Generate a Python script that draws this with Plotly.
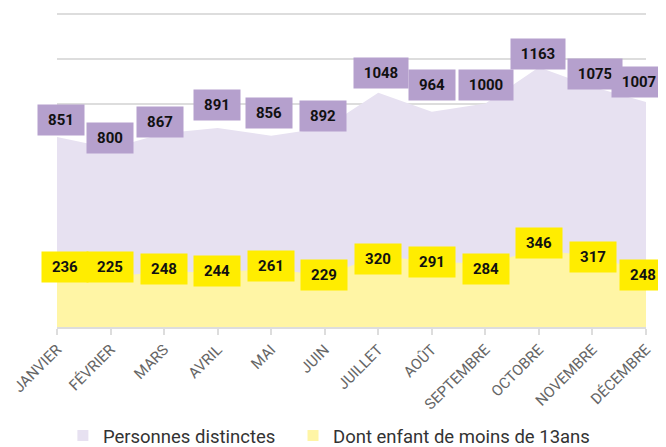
import plotly.graph_objects as go

months = ["JANVIER", "FÉVRIER", "MARS", "AVRIL", "MAI", "JUIN", "JUILLET",
          "AOÛT", "SEPTEMBRE", "OCTOBRE", "NOVEMBRE", "DÉCEMBRE"]
personnes = [851, 800, 867, 891, 856, 892, 1048, 964, 1000, 1163, 1075, 1007]
enfants = [236, 225, 248, 244, 261, 229, 320, 291, 284, 346, 317, 248]

# label placement offsets (pixels, dx right / dy up) to mimic collision avoidance
p_dx = [3.5, -1, -4.5, -0.5, -2.5, -1.5, 3, 0, 0.5, -0.5, 2.5, -7.5]
p_dy = [16.5, 10, 11, 22.5, 22.5, 12, 19.5, 27, 19, 13, 12.5, 20]
e_dx = [7.5, -0.5, -0.5, -0.5, 0, -1, 0, 0, 0.5, 0.5, 1, -3]
e_dy = [7.5, 9.5, 2.6, 1, 3, 1, -3, 0, -5, 6.7, -1, -3.4]

PURPLE_FILL = "#e7e1f1"
PURPLE_BOX = "#b5a0cd"
YELLOW_FILL = "#fff5a5"
YELLOW_BOX = "#ffed00"

fig = go.Figure()
fig.add_trace(go.Scatter(x=months, y=personnes, name="Personnes distinctes",
                         mode="lines", line=dict(width=0, color=PURPLE_FILL),
                         fill="tozeroy", fillcolor=PURPLE_FILL, showlegend=False))
fig.add_trace(go.Scatter(x=months, y=enfants, name="Dont enfant de moins de 13ans",
                         mode="lines", line=dict(width=0, color=YELLOW_FILL),
                         fill="tozeroy", fillcolor=YELLOW_FILL, showlegend=False))
# legend entries with small square swatches
fig.add_trace(go.Scatter(x=[None], y=[None], mode="markers", name="Personnes distinctes",
                         marker=dict(symbol="square", size=11, color=PURPLE_FILL),
                         legend="legend"))
fig.add_trace(go.Scatter(x=[None], y=[None], mode="markers",
                         name="Dont enfant de moins de 13ans",
                         marker=dict(symbol="square", size=11, color=YELLOW_FILL),
                         legend="legend2"))

annotations = []
for series, dxs, dys, box in [(personnes, p_dx, p_dy, PURPLE_BOX),
                              (enfants, e_dx, e_dy, YELLOW_BOX)]:
    for i, (m, v) in enumerate(zip(months, series)):
        txt = str(v)
        w = 38 if len(txt) <= 3 else 46
        annotations.append(dict(x=m, y=v, xref="x", yref="y", text=f"<b>{txt}</b>",
                                showarrow=False, xshift=dxs[i], yshift=dys[i],
                                width=w, height=22, borderpad=4, bgcolor=box,
                                font=dict(family="Roboto", size=15, color="#111111")))

legend_common = dict(orientation="h", xanchor="left",
                     yref="container", y=0.0425, yanchor="middle",
                     font=dict(size=18.5, color="#333333"), itemwidth=30,
                     tracegroupgap=0, bgcolor="rgba(0,0,0,0)")

fig.update_layout(
    width=666, height=447,
    margin=dict(l=49, r=28, t=4, b=128, autoexpand=False),
    paper_bgcolor="white", plot_bgcolor="white",
    font=dict(family="Roboto", color="#333333"),
    annotations=annotations,
    showlegend=True,
    legend=dict(x=0.01, **legend_common),
    legend2=dict(x=0.4007, **legend_common),
    xaxis=dict(type="category", range=[0, 11], showgrid=False, automargin=False,
               showline=True, linecolor="#dddddd", linewidth=2,
               ticks="outside", ticklen=6, tickcolor="#dddddd", tickwidth=2,
               tickangle=-45, tickfont=dict(size=15, color="#666666")),
    yaxis=dict(range=[0, 1410], dtick=200, showgrid=True, gridcolor="#dddddd",
               gridwidth=2, showticklabels=False, zeroline=False, automargin=False),
)

fig.write_html("out.html")
